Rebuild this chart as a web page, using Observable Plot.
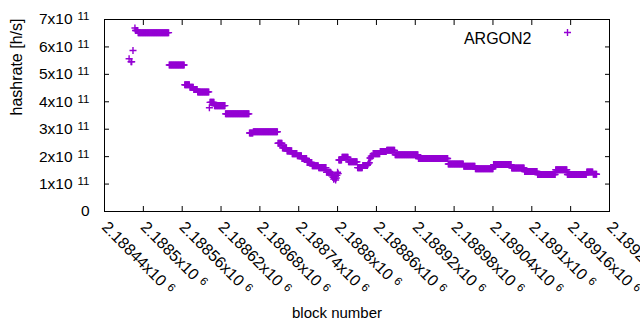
<!DOCTYPE html>
<html><head><meta charset="utf-8">
<script src="https://cdn.jsdelivr.net/npm/d3@7"></script>
<script src="https://cdn.jsdelivr.net/npm/@observablehq/plot@0.6"></script>
<style>
html,body{margin:0;padding:0;background:#fff}
#chart svg{display:block}
</style></head><body><div id="chart"></div>
<script>
// Runs of consecutive blocks sharing the same hashrate estimate (values in units of 1e11 h/s)
const runStart = [2188478,2188481,2188484,2188487,2188488,2188492,2188540,2188564,2188572,2188578,2188584,2188602,2188603,2188610,2188627,2188664,2188670,2188708,2188715,2188722,2188730,2188738,2188745,2188753,2188761,2188771,2188783,
  2188790,2188791,2188792,2188793,2188794,2188795,2188796,2188797,2188798,2188799,2188800,2188801,
  2188802,2188807,2188817,2188831,2188839,2188847,2188848,2188850,2188852,2188855,2188866,2188876,2188889,2188925,2188971,2188995,2189013,2189041,2189069,2189089,2189109,2189137,2189155,2189185,2189195];
const runEnd = [2188478,2188482,2188484,2188487,2188491,2188539,2188563,2188571,2188577,2188583,2188601,2188602,2188609,2188626,2188663,2188669,2188707,2188714,2188721,2188729,2188737,2188744,2188752,2188760,2188770,2188782,2188789,
  2188790,2188791,2188792,2188793,2188794,2188795,2188796,2188797,2188798,2188799,2188800,2188801,
  2188806,2188816,2188830,2188838,2188846,2188847,2188849,2188851,2188854,2188865,2188875,2188888,2188924,2188970,2188994,2189012,2189040,2189068,2189088,2189108,2189136,2189154,2189184,2189194,2189200];
const runValue = [5.57,5.46,5.87,6.69,6.60,6.52,5.34,4.62,4.53,4.45,4.36,3.78,3.98,3.86,3.56,2.86,2.91,2.49,2.32,2.21,2.11,2.03,1.93,1.79,1.67,1.60,1.43,
  1.40,1.30,1.36,1.25,1.18,1.28,1.20,1.15,1.22,1.32,1.43,1.38,
  1.88,1.98,1.81,1.60,1.68,1.72,1.78,1.95,2.02,2.11,2.19,2.23,2.07,1.93,1.73,1.65,1.56,1.71,1.59,1.46,1.35,1.52,1.35,1.44,1.36];

const xTickValues = [2188440,2188500,2188560,2188620,2188680,2188740,2188800,2188860,2188920,2188980,2189040,2189100,2189160,2189220];
const xTickLabels = ["2.18844","2.1885","2.18856","2.18862","2.18868","2.18874","2.1888","2.18886","2.18892","2.18898","2.18904","2.1891","2.18916","2.18922"];
const xExponent = "6";
const yTickValues = [0,1e11,2e11,3e11,4e11,5e11,6e11,7e11];
const yTickLabels = ["0","1","2","3","4","5","6","7"];
const yExponent = "11";
const seriesName = "ARGON2";
const xTitle = "block number";
const yTitle = "hashrate [h/s]";

const points = [];
runStart.forEach((s, i) => {
  for (let b = s; b <= runEnd[i]; b++) points.push({block: b, hashrate: runValue[i] * 1e11});
});

const color = "#9400d3";
const font = "'Liberation Sans', Arial, sans-serif";

const chart = Plot.plot({
  width: 640, height: 330,
  marginLeft: 104, marginRight: 31, marginTop: 19, marginBottom: 119,
  style: {fontFamily: font, fontSize: "15px", color: "#000", background: "#fff", overflow: "visible"},
  x: {domain: [2188440, 2189220]},
  y: {domain: [0, 7e11]},
  marks: [
    Plot.axisX(xTickValues, {anchor: "bottom", tickSize: -5, tickFormat: () => "", label: null}),
    Plot.axisX(xTickValues, {anchor: "top", tickSize: -5, tickFormat: () => "", label: null}),
    Plot.axisY(yTickValues, {anchor: "left", tickSize: -5, tickFormat: () => "", label: null}),
    Plot.axisY(yTickValues, {anchor: "right", tickSize: -5, tickFormat: () => "", label: null}),
    Plot.frame({stroke: "#000", strokeWidth: 1}),
    Plot.text(xTickValues, {x: d => d, frameAnchor: "bottom", text: (d, i) => xTickLabels[i] + "x10",
      rotate: 45, textAnchor: "start", lineAnchor: "middle", dx: 0, dy: 13, fontSize: 16, fill: "#000"}),
    Plot.text(yTickValues, {y: d => d, frameAnchor: "left", text: (d, i) => d === 0 ? yTickLabels[i] : yTickLabels[i] + "x10",
      textAnchor: "end", dx: -15, fontSize: 15.5, fill: "#000"}),
    Plot.text([yTitle], {frameAnchor: "left", text: d => d, rotate: -90, dx: -88, fontSize: 16, fill: "#000"}),
    Plot.text([xTitle], {frameAnchor: "bottom", text: d => d, dx: -20, dy: 106, fontSize: 15, fill: "#000"}),
    Plot.text([seriesName], {frameAnchor: "top-right", text: d => d, textAnchor: "end", dx: -78, dy: 13, fontSize: 16, fill: "#000"}),
    Plot.dot([seriesName], {frameAnchor: "top-right", dx: -42, dy: 13, symbol: "plus", r: 2.4, stroke: color, strokeWidth: 1.4}),
    Plot.dot(points, {x: "block", y: "hashrate", symbol: "plus", r: 2.4, stroke: color, strokeWidth: 1.4})
  ]
});

// gnuplot-style superscript exponents on the tick labels
const xFull = xTickLabels.map(l => l + "x10");
d3.select(chart).selectAll("text").each(function () {
  const t = this.textContent;
  let exp = null;
  if (xFull.includes(t)) exp = xExponent;
  else if (/^\dx10$/.test(t)) exp = yExponent;
  if (exp) {
    d3.select(this).append("tspan").attr("dx", "5").attr("dy", "-4").attr("font-size", "11.5px").text(exp);
  }
});

document.getElementById("chart").appendChild(chart);
</script>
</body></html>
